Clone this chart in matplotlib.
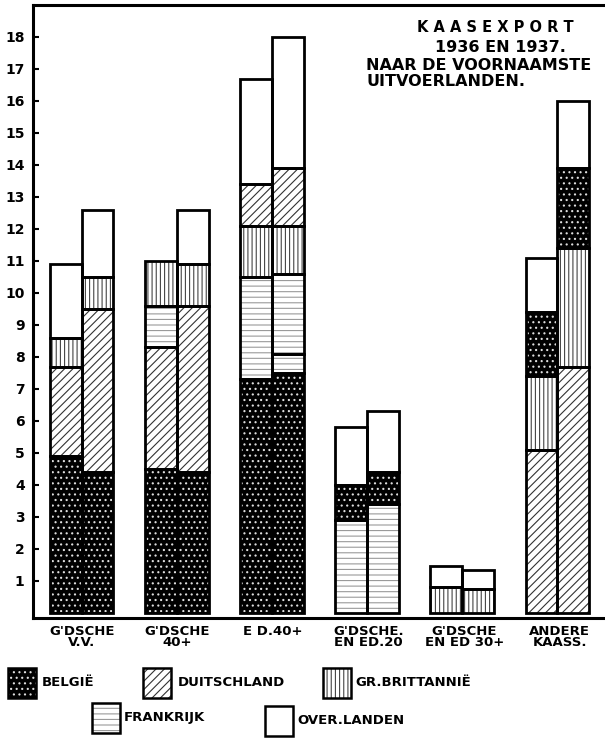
import matplotlib
matplotlib.use("Agg")
import matplotlib.pyplot as plt
from matplotlib.patches import Rectangle

plt.rcParams['font.family'] = ['DejaVu Sans']
plt.rcParams['hatch.linewidth'] = 0.8

categories = ["G'DSCHE\nV.V.", "G'DSCHE\n40+", "E D.40+", "G'DSCHE.\nEN ED.20",
              "G'DSCHE\nEN ED 30+", "ANDERE\nKAASS."]
years = ["1936", "1937"]

# stacking order (bottom -> top) per category, with values for 1936 and 1937 (x 1000 ton)
order_g1 = ["BE", "DU", "GB", "OV"]
g1_1936 = [4.9, 2.8, 0.9, 2.3]
g1_1937 = [4.4, 5.1, 1.0, 2.1]

order_g2 = ["BE", "DU", "FR", "GB", "OV"]
g2_1936 = [4.5, 3.8, 1.3, 1.4, 0.0]
g2_1937 = [4.4, 5.2, 0.0, 1.3, 1.7]

order_g3 = ["BE", "FR", "FR", "GB", "DU", "OV"]
g3_1936 = [7.3, 3.2, 0.0, 1.6, 1.3, 3.3]
g3_1937 = [7.5, 0.6, 2.5, 1.5, 1.8, 4.1]

order_g4 = ["FR", "BE", "OV"]
g4_1936 = [2.9, 1.1, 1.8]
g4_1937 = [3.4, 1.0, 1.9]

order_g5 = ["GB", "OV"]
g5_1936 = [0.8, 0.65]
g5_1937 = [0.75, 0.6]

order_g6 = ["DU", "GB", "BE", "OV"]
g6_1936 = [5.1, 2.3, 2.0, 1.7]
g6_1937 = [7.7, 3.7, 2.5, 2.1]

orders = [order_g1, order_g2, order_g3, order_g4, order_g5, order_g6]
values_1936 = [g1_1936, g2_1936, g3_1936, g4_1936, g5_1936, g6_1936]
values_1937 = [g1_1937, g2_1937, g3_1937, g4_1937, g5_1937, g6_1937]

country_codes = ["BE", "DU", "GB", "FR", "OV"]
country_names = ["BELGIË", "DUITSCHLAND", "GR.BRITTANNIË", "FRANKRIJK", "OVER.LANDEN"]

yticks = list(range(1, 19))

# styles: facecolor, hatch, hatch colour
styles = {
    "BE": ("black", "...", "#dddddd"),
    "DU": ("white", "////", "#333333"),
    "GB": ("white", "||||", "#444444"),
    "FR": ("white", "---", "#9a9a9a"),
    "OV": ("white", None, "white"),
}

W, H = 605, 745
fig = plt.figure(figsize=(W / 100, H / 100), dpi=100)
ax = fig.add_axes([33 / W, 1 - 618 / H, 1 - 33 / W, (618 - 5) / H])

bw = 0.335
for gi in range(len(categories)):
    for yi, vals in enumerate([values_1936[gi], values_1937[gi]]):
        x = gi - bw / 2 if yi == 0 else gi + bw / 2
        bottom = 0.0
        for code, v in zip(orders[gi], vals):
            if v <= 0:
                continue
            fc, hatch, hc = styles[code]
            ax.bar(x, v, width=bw, bottom=bottom, color=fc, edgecolor=hc,
                   hatch=hatch, linewidth=0, zorder=2)
            ax.bar(x, v, width=bw, bottom=bottom, fill=False, edgecolor="black",
                   linewidth=2.0, zorder=3)
            bottom += v

ax.set_xlim(-0.51, 5.5)
ax.set_ylim(-0.16, 19.0)
ax.set_yticks(yticks)
ax.set_yticklabels([str(t) for t in yticks], fontweight="bold", fontsize=10)
ax.tick_params(axis="y", direction="in", length=4, width=1.5, pad=6)
ax.set_xticks([])
for s in ["left", "top", "bottom"]:
    ax.spines[s].set_linewidth(2.2)
ax.spines["right"].set_visible(False)

# category labels
for gi, lab in enumerate(categories):
    xf = (33 + (gi + 0.51) * 95.6) / W
    fig.text(xf, 1 - 625 / H, lab, ha="center", va="top", fontsize=9.5,
             fontweight="bold", linespacing=0.85)

# title
fig.text(495 / W, 1 - 28 / H, "K A A S E X P O R T", ha="center", va="center",
         fontsize=10.5, fontweight="bold")
fig.text(500 / W, 1 - 47 / H, "1936 EN 1937.", ha="center", va="center",
         fontsize=11.5, fontweight="bold")
fig.text(366 / W, 1 - 65 / H, "NAAR DE VOORNAAMSTE", ha="left", va="center",
         fontsize=11.5, fontweight="bold")
fig.text(366 / W, 1 - 82 / H, "UITVOERLANDEN.", ha="left", va="center",
         fontsize=11.5, fontweight="bold")

# legend (manual placement)
legend_pos = {
    "BE": (8, 668, 42),
    "DU": (143, 668, 178),
    "GB": (323, 668, 355),
    "FR": (92, 703, 124),
    "OV": (265, 706, 297),
}
for code, name in zip(country_codes, country_names):
    x0, y0, tx = legend_pos[code]
    fc, hatch, hc = styles[code]
    w, h = 28, 30
    r1 = Rectangle((x0 / W, 1 - (y0 + h) / H), w / W, h / H, transform=fig.transFigure,
                   facecolor=fc, edgecolor=hc, hatch=hatch, linewidth=0)
    r2 = Rectangle((x0 / W, 1 - (y0 + h) / H), w / W, h / H, transform=fig.transFigure,
                   fill=False, edgecolor="black", linewidth=1.8)
    fig.add_artist(r1)
    fig.add_artist(r2)
    fig.text(tx / W, 1 - (y0 + h / 2) / H, name, ha="left", va="center",
             fontsize=9.5, fontweight="bold")

fig.savefig("out.png", dpi=100, facecolor="white")
